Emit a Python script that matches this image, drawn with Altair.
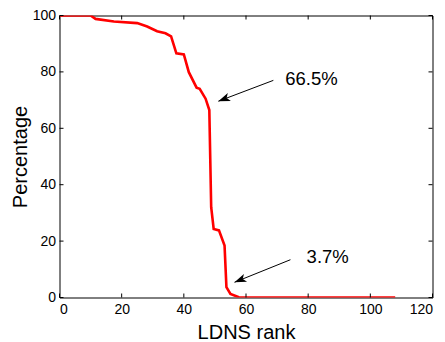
import altair as alt
import pandas as pd

# curve data
rank = [0, 10, 11.6, 17.5, 25, 28.2, 31.4, 34.1, 35.9, 37.6, 40, 41.6, 44.1, 45.1,
        47, 48.2, 48.8, 49.6, 51.3, 53.1, 53.7, 55, 57.7, 60, 108]
pct = [100, 100, 98.8, 97.9, 97.3, 96.1, 94.4, 93.7, 92.6, 86.6, 86.2, 79.9, 74.4, 74.0,
       70.5, 66.5, 32.0, 24.3, 23.8, 18.4, 3.7, 1.3, 0.1, 0, 0]

# annotations
ann_text = ["66.5%", "3.7%"]
ann_tx = [72.6, 79.5]
ann_ty = [77.6, 14.4]
arrow_x0 = [68.8, 74.3]
arrow_y0 = [77.0, 13.4]
arrow_x1 = [51.1, 56.3]
arrow_y1 = [69.6, 5.4]
arrow_angle = [248.6, 248.2]

xticks = [0, 20, 40, 60, 80, 100, 120]
yticks = [0, 20, 40, 60, 80, 100]

W, H = 373, 282
FONT = "Liberation Sans"

curve = pd.DataFrame({"rank": rank, "pct": pct})
ann = pd.DataFrame({"text": ann_text, "tx": ann_tx, "ty": ann_ty,
                    "x0": arrow_x0, "y0": arrow_y0, "x1": arrow_x1, "y1": arrow_y1,
                    "angle": arrow_angle})
xt = pd.DataFrame({"v": xticks})
yt = pd.DataFrame({"v": yticks})

xscale = alt.Scale(domain=[0, 120], nice=False)
yscale = alt.Scale(domain=[0, 100], nice=False)

line = alt.Chart(curve).mark_line(color="#ff0000", strokeWidth=2.6, clip=True).encode(
    x=alt.X("rank:Q", scale=xscale,
            axis=alt.Axis(values=xticks, title="LDNS rank", tickSize=0, domain=False,
                          grid=False, labelFont=FONT, labelFontSize=14, labelColor="black",
                          labelPadding=5, titleFont=FONT, titleFontSize=20,
                          titleFontWeight="normal", titleColor="black", titlePadding=6)),
    y=alt.Y("pct:Q", scale=yscale,
            axis=alt.Axis(values=yticks, title="Percentage", tickSize=0, domain=False,
                          grid=False, labelFont=FONT, labelFontSize=14, labelColor="black",
                          labelPadding=4, titleFont=FONT, titleFontSize=20,
                          titleFontWeight="normal", titleColor="black", titlePadding=2)),
)

tick_b = alt.Chart(xt).mark_rule(color="black", strokeWidth=1).encode(
    x=alt.X("v:Q", scale=xscale), y=alt.value(H), y2=alt.value(H - 4))
tick_t = alt.Chart(xt).mark_rule(color="black", strokeWidth=1).encode(
    x=alt.X("v:Q", scale=xscale), y=alt.value(0), y2=alt.value(4))
tick_l = alt.Chart(yt).mark_rule(color="black", strokeWidth=1).encode(
    y=alt.Y("v:Q", scale=yscale), x=alt.value(0), x2=alt.value(4))
tick_r = alt.Chart(yt).mark_rule(color="black", strokeWidth=1).encode(
    y=alt.Y("v:Q", scale=yscale), x=alt.value(W), x2=alt.value(W - 4))

shaft = alt.Chart(ann).mark_rule(color="black", strokeWidth=1).encode(
    x=alt.X("x0:Q", scale=xscale), y=alt.Y("y0:Q", scale=yscale),
    x2="x1:Q", y2="y1:Q")
head = alt.Chart(ann).mark_point(
    shape="M0,0L-0.36,1L0,0.75L0.36,1Z", filled=True, color="black", opacity=1,
    size=560, strokeWidth=0).encode(
    x=alt.X("x1:Q", scale=xscale), y=alt.Y("y1:Q", scale=yscale),
    angle=alt.Angle("angle:Q", scale=None))
label = alt.Chart(ann).mark_text(font=FONT, fontSize=18.5, align="left",
                                 baseline="middle", color="black").encode(
    x=alt.X("tx:Q", scale=xscale), y=alt.Y("ty:Q", scale=yscale), text="text:N")

chart = alt.layer(line, tick_b, tick_t, tick_l, tick_r, shaft, head, label).properties(
    width=W, height=H,
    background="white",
    autosize=alt.AutoSizeParams(type="none"),
    padding={"left": 51.5, "top": 7.5, "right": 4.5, "bottom": 44.5},
).configure_view(stroke="black", strokeWidth=1)

chart.save("out.html", embed_options={"renderer": "svg", "actions": False})
